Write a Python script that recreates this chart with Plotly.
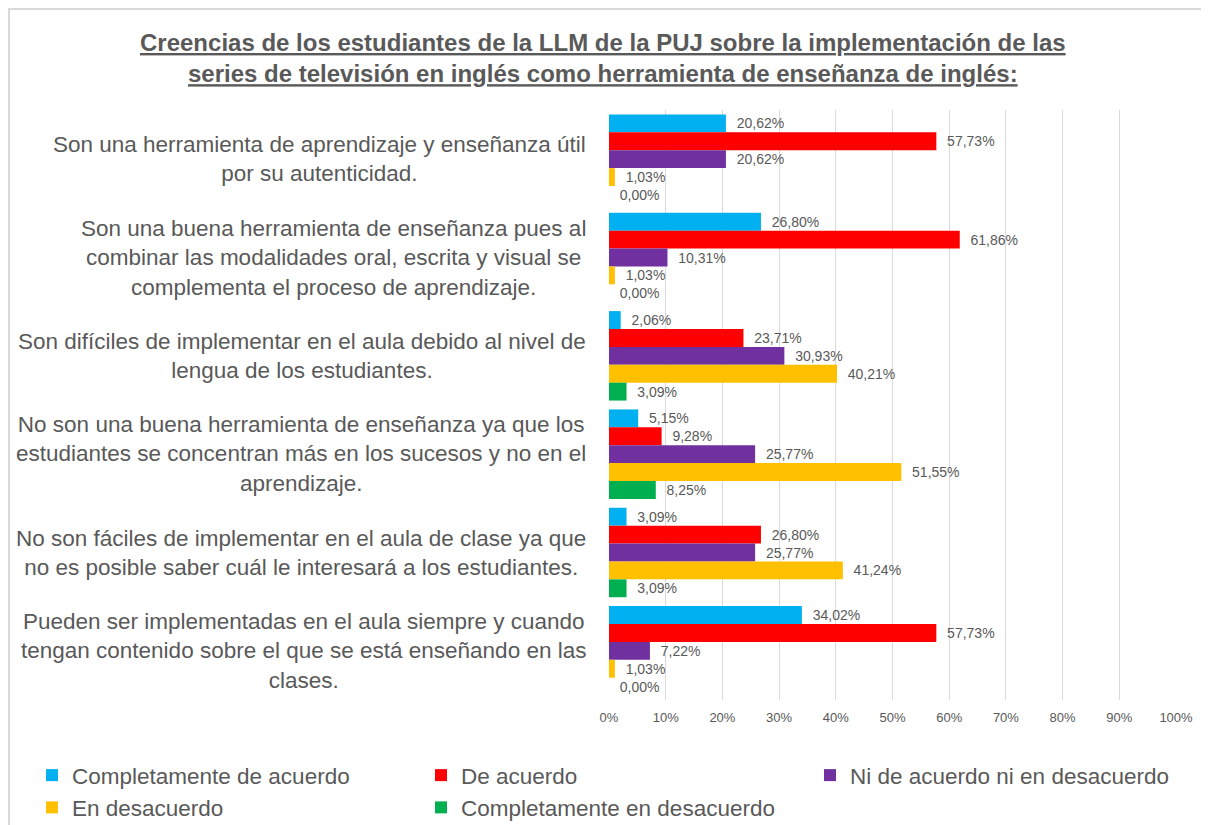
import plotly.graph_objects as go

categories = [
    "Son una herramienta de aprendizaje y enseñanza útil<br>por su autenticidad.",
    "Son una buena herramienta de enseñanza pues al<br>combinar las modalidades oral, escrita y visual se<br>complementa el proceso de aprendizaje.",
    "Son difíciles de implementar en el aula debido al nivel de<br>lengua de los estudiantes.",
    "No son una buena herramienta de enseñanza ya que los<br>estudiantes se concentran más en los sucesos y no en el<br>aprendizaje.",
    "No son fáciles de implementar en el aula de clase ya que<br>no es posible saber cuál le interesará a los estudiantes.",
    "Pueden ser implementadas en el aula siempre y cuando<br>tengan contenido sobre el que se está enseñando en las<br>clases.",
]

series_names = [
    "Completamente de acuerdo",
    "De acuerdo",
    "Ni de acuerdo ni en desacuerdo",
    "En desacuerdo",
    "Completamente en desacuerdo",
]

completamente_de_acuerdo = [20.62, 26.80, 2.06, 5.15, 3.09, 34.02]
de_acuerdo = [57.73, 61.86, 23.71, 9.28, 26.80, 57.73]
ni_de_acuerdo = [20.62, 10.31, 30.93, 25.77, 25.77, 7.22]
en_desacuerdo = [1.03, 1.03, 40.21, 51.55, 41.24, 1.03]
completamente_en_desacuerdo = [0.00, 0.00, 3.09, 8.25, 3.09, 0.00]

series_values = [completamente_de_acuerdo, de_acuerdo, ni_de_acuerdo,
                 en_desacuerdo, completamente_en_desacuerdo]
colors = ["#00B0F0", "#FF0000", "#7030A0", "#FFC000", "#00B050"]

tick_vals = [0, 10, 20, 30, 40, 50, 60, 70, 80, 90, 100]
tick_text = ["0%", "10%", "20%", "30%", "40%", "50%", "60%", "70%", "80%", "90%", "100%"]

title_text = ("<b><u>Creencias de los estudiantes de la LLM de la PUJ sobre la implementación de las</u><br>"
              "<u>series de televisión en inglés como herramienta de enseñanza de inglés:</u></b>")

GRAY = "#595959"
FONT = "Liberation Sans"

fig = go.Figure()
for name, vals, col in zip(series_names, series_values, colors):
    fig.add_trace(go.Bar(
        y=categories, x=vals, name=name, orientation="h",
        marker=dict(color=col, line=dict(width=0)),
        texttemplate="\u00a0\u00a0%{x:.2f}%", textposition="outside",
        textfont=dict(size=14, color=GRAY, family=FONT),
        constraintext="none", cliponaxis=False,
    ))

# page has an 8px body margin: figure coords = reference coords - 8
W, H = 1201, 817
L, T = 601, 102
pw, ph = 567, 590
R, B = W - L - pw, H - T - ph


def px_x(p):
    return (p - L) / pw


def px_y(p):
    return (T + ph - p) / ph


for cat in categories:
    fig.add_annotation(
        x=px_x(580), xref="paper", y=cat, yref="y",
        xanchor="right", yanchor="middle", align="center",
        text=cat, showarrow=False,
        font=dict(size=22.5, color=GRAY, family=FONT),
    )

fig.add_annotation(
    x=px_x(595), xref="paper", y=px_y(49.5), yref="paper",
    xanchor="center", yanchor="middle", align="center",
    text=title_text, showarrow=False,
    font=dict(size=24, color=GRAY, family=FONT),
)

fig.add_shape(type="rect", xref="paper", yref="paper",
              x0=px_x(1), x1=px_x(1250), y0=px_y(850), y1=px_y(1),
              line=dict(color="#D9D9D9", width=2), fillcolor="rgba(0,0,0,0)", layer="below")

fig.update_layout(
    width=W, height=H,
    margin=dict(l=L, r=R, t=T, b=B, autoexpand=False),
    paper_bgcolor="white", plot_bgcolor="white",
    separators=",.",
    barmode="group", bargap=0.09, bargroupgap=0,
    font=dict(family=FONT, color=GRAY),
    xaxis=dict(range=[0, 100], tickmode="array", tickvals=tick_vals, ticktext=tick_text,
               showgrid=True, gridcolor="#D9D9D9", gridwidth=1,
               zeroline=False, showline=False,
               ticks="outside", ticklen=5, tickcolor="rgba(0,0,0,0)",
               tickfont=dict(size=13, color=GRAY, family=FONT), fixedrange=True),
    yaxis=dict(autorange="reversed", showticklabels=False, showgrid=False,
               zeroline=False, showline=False, ticks=""),
    legend=dict(orientation="h", x=px_x(24), xanchor="left",
                y=px_y(746), yanchor="top", traceorder="normal",
                entrywidth=344, entrywidthmode="pixels",
                font=dict(size=22.5, color=GRAY, family=FONT),
                itemclick=False, itemdoubleclick=False),
    showlegend=True,
)

fig.write_html("out.html")
